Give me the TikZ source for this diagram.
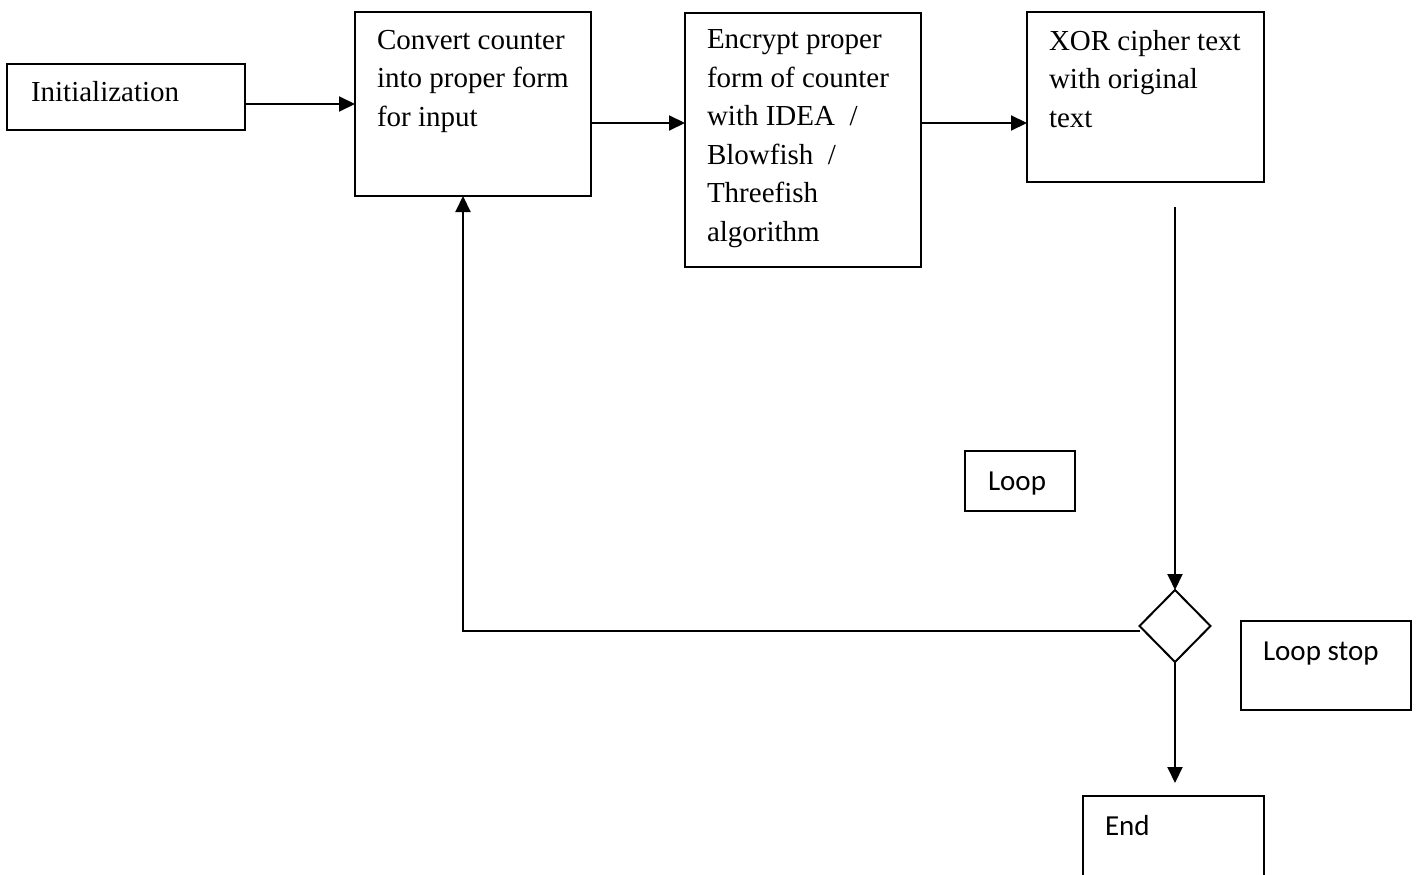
\documentclass[tikz,border=0pt]{standalone}
\usepackage{fontspec}
\setmainfont{Liberation Serif}
\newfontfamily\calibrifont{Carlito}
\usetikzlibrary{arrows.meta,shapes.geometric}
\begin{document}
\begin{tikzpicture}[x=1pt,y=-1pt,line width=2pt,
  box/.style={draw,line width=2pt,anchor=north west,inner sep=0pt,outer sep=0pt},
  serif/.style={font=\fontsize{29}{38.5}\selectfont,anchor=north west,inner sep=0pt,align=left,
    execute at begin node={\rule{0pt}{21pt}}},
  sans/.style={font=\calibrifont\fontsize{29}{36}\selectfont,anchor=base west,inner sep=0pt,align=left},
  arr/.style={-{Triangle[length=16pt,width=15pt]},line width=2pt},
  decision/.style={draw,diamond,line width=2pt,inner sep=0pt,minimum width=71pt,minimum height=72pt,outer sep=0pt}]
\useasboundingbox (0,0) rectangle (1417,875);
\clip (0,0) rectangle (1417,875);

% process boxes
\node[box,minimum width=238pt,minimum height=66pt] (init) at (7,64) {};
\node[box,minimum width=236pt,minimum height=184pt] (conv) at (355,12) {};
\node[box,minimum width=236pt,minimum height=254pt] (enc) at (685,13) {};
\node[box,minimum width=237pt,minimum height=170pt] (xor) at (1027,12) {};
\node[box,minimum width=110pt,minimum height=60pt] (loop) at (965,451) {};
\node[box,minimum width=170pt,minimum height=89pt] (stop) at (1241,621) {};
\node[box,minimum width=181pt,minimum height=110pt] (endb) at (1083,796) {};
\node[decision] (dec) at (1175,626) {};

% box texts (first baseline 21pt below the anchor)
\node[serif] (initt) at (30,79) {Initialization};
\node[serif] (convt) at (376,29) {Convert counter\\into proper form\\for input};
\node[serif] (enct) at (706,29) {Encrypt proper\\form of counter\\with IDEA\ \ /\\Blowfish\ \ /\\Threefish\\algorithm};
\node[serif] (xort) at (1048,29) {XOR cipher text\\with original\\text};
\node[sans] (loopt) at (987,490) {Loop};
\node[sans] (stopt) at (1262,660) {Loop stop};
\node[sans] (endt) at (1104,835) {End};

% connectors
\coordinate (xdown) at (1175,207);
\draw[arr] (init.east |- 0,104) -- (conv.west |- 0,104);
\draw[arr] (conv.east |- 0,123) -- (enc.west |- 0,123);
\draw[arr] (enc.east |- 0,123) -- (xor.west |- 0,123);
\draw[arr] (xdown) -- (dec.north);
\draw[arr] ([yshift=-5pt]dec.west) -| ([xshift=-10pt]conv.south);
\draw[arr,shorten >=13pt] (dec.south) -- (dec.south |- endb.north);
\end{tikzpicture}
\end{document}
